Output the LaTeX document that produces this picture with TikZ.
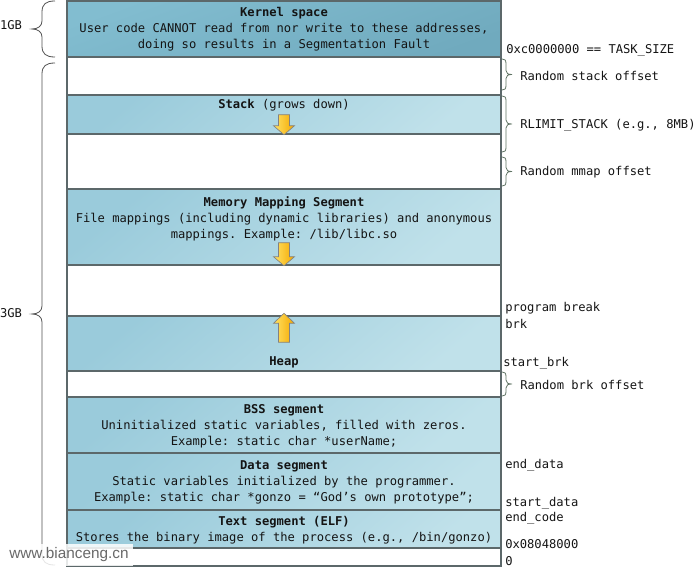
\documentclass[tikz,border=0pt]{standalone}
\usepackage{fontspec}
\setmonofont{DejaVu Sans Mono}
\newfontfamily\marksans{Liberation Sans}
\usepackage{tikz}
\usetikzlibrary{fit, positioning, calc}
\definecolor{memline}{RGB}{92,104,106}
\definecolor{segdark}{RGB}{154,203,219}
\definecolor{seglight}{RGB}{192,225,234}
\definecolor{kerneltop}{RGB}{130,189,208}
\definecolor{kernelbot}{RGB}{112,170,190}
\definecolor{arrowlight}{RGB}{255,226,100}
\definecolor{arrowdark}{RGB}{244,168,0}
\definecolor{arrowline}{RGB}{130,130,130}
\definecolor{bracegray}{RGB}{80,80,80}
\definecolor{bracegreen}{RGB}{96,116,100}
\definecolor{textdark}{RGB}{20,20,20}
\definecolor{markgray}{RGB}{105,105,105}
\tikzset{
    segment/.style={
        rectangle,
        draw=memline,
        line width=1.1pt,
        inner sep=0pt,
        top color=segdark,
        bottom color=seglight,
        shading angle=40
    },
    kernelseg/.style={
        segment,
        top color=kerneltop,
        bottom color=kernelbot,
        shading angle=20
    },
    gapseg/.style={
        rectangle,
        draw=memline,
        line width=1.1pt,
        fill=white,
        inner sep=0pt
    },
    segtext/.style={
        font=\ttfamily\fontsize{9.1}{12}\selectfont,
        align=center,
        inner sep=0pt,
        text=textdark
    },
    addrlabel/.style={
        segtext,
        anchor=west
    },
    growarrow/.style={
        draw=arrowline,
        line width=0.5pt,
        left color=arrowlight,
        right color=arrowdark
    },
    bigbrace/.style={
        draw=bracegray,
        line width=0.6pt
    },
    smallbrace/.style={
        draw=bracegreen,
        line width=0.6pt
    },
    watermark/.style={
        fill=white,
        fill opacity=0.85,
        text opacity=1,
        text=markgray,
        inner sep=0pt,
        minimum width=96pt,
        minimum height=16.5pt,
        font=\marksans\fontsize{11.5}{11.5}\selectfont
    }
}
% brace pointing left: x of the ends, top y, bottom y
\newcommand{\sizebrace}[3]{%
  \draw[bigbrace] (#1,#2) .. controls ({#1-9},#2) and ({#1-13},{#2+3}) .. ({#1-13},{#2+11})
    -- ({#1-13},{(#2+#3)/2-8}) .. controls ({#1-13},{(#2+#3)/2-3}) and ({#1-17},{(#2+#3)/2}) .. ({#1-23},{(#2+#3)/2})
    .. controls ({#1-17},{(#2+#3)/2}) and ({#1-13},{(#2+#3)/2+3}) .. ({#1-13},{(#2+#3)/2+8})
    -- ({#1-13},{#3-11}) .. controls ({#1-13},{#3-3}) and ({#1-9},#3) .. (#1,#3);}
% brace pointing right: x of the ends, top y, bottom y
\newcommand{\offsetbrace}[3]{%
  \draw[smallbrace] (#1,#2) .. controls ({#1+3},#2) and ({#1+4},{#2+1}) .. ({#1+4},{#2+5})
    -- ({#1+4},{(#2+#3)/2-4}) .. controls ({#1+4},{(#2+#3)/2-1}) and ({#1+6},{(#2+#3)/2}) .. ({#1+10},{(#2+#3)/2})
    .. controls ({#1+6},{(#2+#3)/2}) and ({#1+4},{(#2+#3)/2+1}) .. ({#1+4},{(#2+#3)/2+4})
    -- ({#1+4},{#3-5}) .. controls ({#1+4},{#3-1}) and ({#1+3},#3) .. (#1,#3);}

\begin{document}
\begin{tikzpicture}[x=0.75pt, y=-0.75pt]
\useasboundingbox (0,0) rectangle (696,570);

% Segments, top to bottom
\node[kernelseg, fit={(67,1) (501,57)}] (kernel) {};
\node[gapseg, fit={(67,57) (501,95)}] (stackgap) {};
\node[segment, fit={(67,95) (501,134)}] (stack) {};
\node[gapseg, fit={(67,134) (501,189)}] (mmapgap) {};
\node[segment, fit={(67,189) (501,265)}] (mmap) {};
\node[gapseg, fit={(67,265) (501,316)}] (heapgap) {};
\node[segment, fit={(67,316) (501,371)}] (heap) {};
\node[gapseg, fit={(67,371) (501,397)}] (brkgap) {};
\node[segment, fit={(67,397) (501,453)}] (bss) {};
\node[segment, fit={(67,453) (501,510)}] (data) {};
\node[segment, fit={(67,510) (501,548)}] (textseg) {};
\node[gapseg, fit={(67,548) (501,566)}] (bottomgap) {};

% Segment texts
\node[segtext] (kerneltxt) at (284,29) {\textbf{Kernel space}\\User code CANNOT read from nor write to these addresses,\\doing so results in a Segmentation Fault};
\node[segtext] (stacktxt) at (284,105) {\textbf{Stack} (grows down)};
\node[segtext] (mmaptxt) at (284,219) {\textbf{Memory Mapping Segment}\\File mappings (including dynamic libraries) and anonymous\\mappings. Example: /lib/libc.so};
\node[segtext] (heaptxt) at (284,362) {\textbf{Heap}};
\node[segtext] (bsstxt) at (284,426) {\textbf{BSS segment}\\Uninitialized static variables, filled with zeros.\\Example: static char *userName;};
\node[segtext] (datatxt) at (284,482) {\textbf{Data segment}\\Static variables initialized by the programmer.\\Example: static char *gonzo = “God’s own prototype”;};
\node[segtext] (texttxt) at (284,530) {\textbf{Text segment (ELF)}\\Stores the binary image of the process (e.g., /bin/gonzo)};

% Growth arrows
\path[growarrow] (stack.south) -- ++(-10.5,-9) -- ++(5,0) -- ++(0,-11) -- ++(11,0) -- ++(0,11) -- ++(5,0) -- cycle;
\path[growarrow] (mmap.south) -- ++(-10.5,-9) -- ++(5,0) -- ++(0,-14) -- ++(11,0) -- ++(0,14) -- ++(5,0) -- cycle;
\path[growarrow] ($(heap.north)+(0,-2)$) -- ++(-10.5,10) -- ++(5,0) -- ++(0,19) -- ++(11,0) -- ++(0,-19) -- ++(5,0) -- cycle;

% Sizes on the left
\sizebrace{55}{1}{57}
\sizebrace{55}{63}{565}
\node[segtext] (onegb) at (11,25) {1GB};
\node[segtext] (threegb) at (11,313) {3GB};

% Offsets and addresses on the right
\offsetbrace{502}{59}{90}
\offsetbrace{502}{96}{152}
\offsetbrace{502}{157}{186}
\offsetbrace{502}{372}{396}
\node[addrlabel] (tasksize) at (506,50) {0xc0000000 == TASK\_SIZE};
\node[addrlabel] (stackoff) at (520,76) {Random stack offset};
\node[addrlabel] (rlimit) at (520,125) {RLIMIT\_STACK (e.g., 8MB)};
\node[addrlabel] (mmapoff) at (520,172) {Random mmap offset};
\node[addrlabel] (progbreak) at (505,308) {program break};
\node[addrlabel] (brk) at (505,324) {brk};
\node[addrlabel] (startbrk) at (503,363) {start\_brk};
\node[addrlabel] (brkoff) at (520,385) {Random brk offset};
\node[addrlabel] (enddata) at (505,465) {end\_data};
\node[addrlabel] (startdata) at (505,503) {start\_data};
\node[addrlabel] (endcode) at (505,518) {end\_code};
\node[addrlabel] (textstart) at (505,544) {0x08048000};
\node[addrlabel] (zero) at (505,561) {0};

\node[watermark] (mark) at (69,555) {www.bianceng.cn};
\end{tikzpicture}
\end{document}
